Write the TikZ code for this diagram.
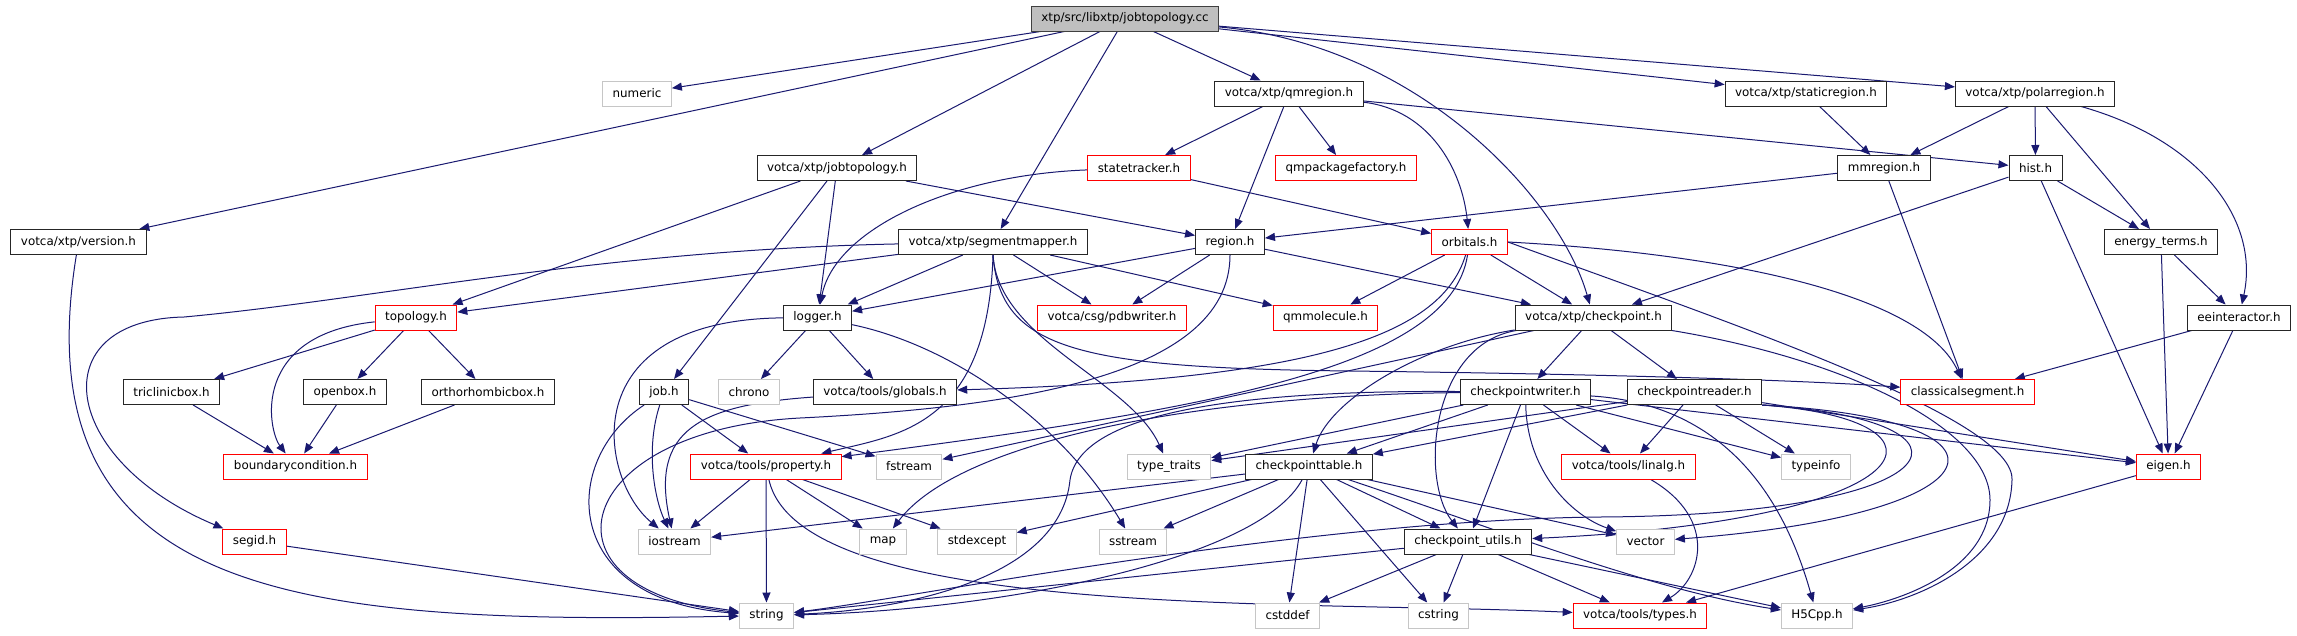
\documentclass[tikz,border=0pt]{standalone}
\usepackage{fontspec}
\setmainfont{DejaVu Sans}
\usetikzlibrary{arrows.meta,backgrounds}
\definecolor{edgeblue}{HTML}{191970}

\begin{document}
\begin{tikzpicture}[x=1pt, y=-1pt,
    hfile/.style={draw=black!85, line width=1pt, fill=white, minimum height=25pt, inner xsep=10pt, inner ysep=0pt, font=\fontsize{11.9}{14}\selectfont},
    redfile/.style={hfile, draw=red},
    sysfile/.style={hfile, draw=gray!45},
    rootfile/.style={hfile, fill=gray!50, draw=black!75},
    dep/.style={edgeblue, line width=1pt, -{Stealth[length=10pt, width=8pt, inset=0pt]}},
]
\useasboundingbox (0,0) rectangle (2297,635);
\begin{scope}[on background layer]
\fill[white] (0,0) rectangle (2297,635);
\end{scope}

% Top: the source file
\node[rootfile] (cc) at (1125,18.5) {xtp/src/libxtp/jobtopology.cc};

% Row 1
\node[sysfile] (numeric) at (637,93.5) {numeric};
\node[hfile] (qmregion) at (1289,93.5) {votca/xtp/qmregion.h};
\node[hfile] (staticregion) at (1806,93.5) {votca/xtp/staticregion.h};
\node[hfile] (polarregion) at (2035,93.5) {votca/xtp/polarregion.h};

% Row 2
\node[hfile] (jobtopology) at (837,168) {votca/xtp/jobtopology.h};
\node[redfile] (statetracker) at (1139,168) {statetracker.h};
\node[redfile] (qmpackagefactory) at (1346,168) {qmpackagefactory.h};
\node[hfile] (mmregion) at (1884,168) {mmregion.h};
\node[hfile] (hist) at (2035.5,168) {hist.h};

% Row 3
\node[hfile] (version) at (78.5,242) {votca/xtp/version.h};
\node[hfile] (segmentmapper) at (993,242) {votca/xtp/segmentmapper.h};
\node[hfile] (region) at (1230,242) {region.h};
\node[redfile] (orbitals) at (1469.5,242) {orbitals.h};
\node[hfile] (energyterms) at (2161,242) {energy\_terms.h};

% Row 4
\node[redfile] (topology) at (416,317.5) {topology.h};
\node[hfile] (logger) at (817.5,317.5) {logger.h};
\node[redfile] (pdbwriter) at (1112,317.5) {votca/csg/pdbwriter.h};
\node[redfile] (qmmolecule) at (1325.5,317.5) {qmmolecule.h};
\node[hfile] (checkpoint) at (1593.5,317.5) {votca/xtp/checkpoint.h};
\node[hfile] (eeinteractor) at (2239,317.5) {eeinteractor.h};

% Row 5
\node[hfile] (triclinicbox) at (171.5,392) {triclinicbox.h};
\node[hfile] (openbox) at (345,392) {openbox.h};
\node[hfile] (orthorhombicbox) at (488,392) {orthorhombicbox.h};
\node[hfile] (job) at (664,392) {job.h};
\node[sysfile] (chrono) at (749,392) {chrono};
\node[hfile] (globals) at (885,392) {votca/tools/globals.h};
\node[hfile] (cpwriter) at (1525.5,392) {checkpointwriter.h};
\node[hfile] (cpreader) at (1694.5,392) {checkpointreader.h};
\node[redfile] (classicalsegment) at (1967.5,392) {classicalsegment.h};

% Row 6
\node[redfile] (boundarycondition) at (295.5,466.5) {boundarycondition.h};
\node[redfile] (property) at (766,466.5) {votca/tools/property.h};
\node[sysfile] (fstream) at (909,466.5) {fstream};
\node[sysfile] (typetraits) at (1169,466.5) {type\_traits};
\node[hfile] (cptable) at (1309,466.5) {checkpointtable.h};
\node[redfile] (linalg) at (1628.5,466.5) {votca/tools/linalg.h};
\node[sysfile] (typeinfo) at (1816,466.5) {typeinfo};
\node[redfile] (eigen) at (2168.5,466.5) {eigen.h};

% Row 7
\node[redfile] (segid) at (254.5,541.5) {segid.h};
\node[sysfile] (iostream) at (674.5,541.5) {iostream};
\node[sysfile] (map) at (883,541.5) {map};
\node[sysfile] (stdexcept) at (977,541.5) {stdexcept};
\node[sysfile] (sstream) at (1133,541.5) {sstream};
\node[hfile] (cputils) at (1468,541.5) {checkpoint\_utils.h};
\node[sysfile] (vector) at (1645.5,541.5) {vector};

% Bottom row
\node[sysfile] (string) at (766.5,615.5) {string};
\node[sysfile] (cstddef) at (1287.5,615.5) {cstddef};
\node[sysfile] (cstring) at (1438.5,615.5) {cstring};
\node[redfile] (types) at (1640,615.5) {votca/tools/types.h};
\node[sysfile] (hfivecpp) at (1817,615.5) {H5Cpp.h};

\begin{scope}[on background layer]
% straight includes
\foreach \a/\b in {cc/numeric, cc/version, cc/jobtopology, cc/segmentmapper, cc/qmregion, cc/staticregion, cc/polarregion,
    jobtopology/topology, jobtopology/job, jobtopology/logger, jobtopology/region,
    qmregion/statetracker, qmregion/region, qmregion/qmpackagefactory, qmregion/hist,
    staticregion/mmregion, polarregion/mmregion, polarregion/hist, polarregion/energyterms,
    statetracker/orbitals, mmregion/region, mmregion/classicalsegment,
    hist/checkpoint, hist/energyterms, hist/eigen, energyterms/eeinteractor, energyterms/eigen,
    eeinteractor/classicalsegment, eeinteractor/eigen,
    segmentmapper/topology, segmentmapper/logger, segmentmapper/pdbwriter, segmentmapper/qmmolecule,
    region/logger, region/pdbwriter, region/checkpoint, orbitals/qmmolecule, orbitals/checkpoint,
    topology/triclinicbox, topology/openbox, topology/orthorhombicbox,
    triclinicbox/boundarycondition, openbox/boundarycondition, orthorhombicbox/boundarycondition,
    logger/chrono, logger/globals, job/property, job/fstream,
    checkpoint/cpwriter, checkpoint/cpreader, checkpoint/fstream,
    cpwriter/cptable, cpwriter/cputils, cpwriter/typetraits, cpwriter/linalg, cpwriter/typeinfo, cpwriter/eigen,
    cpreader/cptable, cpreader/typetraits, cpreader/linalg, cpreader/typeinfo, cpreader/eigen,
    cptable/iostream, cptable/stdexcept, cptable/sstream, cptable/cstddef, cptable/cstring, cptable/cputils, cptable/vector,
    cputils/string, cputils/cstddef, cputils/cstring, cputils/types, cputils/hfivecpp,
    property/iostream, property/map, property/stdexcept, property/string,
    eigen/types, segid/string}
  \draw[dep] (\a) -- (\b);

% curved includes
\draw[dep] (cc) .. controls (1420,45) and (1560,200) .. (checkpoint);
\draw[dep] (polarregion) .. controls (2200,140) and (2260,220) .. (eeinteractor);
\draw[dep] (qmregion) .. controls (1430,110) and (1462,170) .. (orbitals);
\draw[dep] (statetracker) .. controls (950,175) and (835,230) .. (logger);
\draw[dep] (version) .. controls (20,600) and (300,625) .. (string);
\draw[dep] (segmentmapper) .. controls (600,250) and (370,300) .. (184,317) .. controls (40,320) and (60,460) .. (segid);
\draw[dep] (segmentmapper.south) .. controls (988,425) and (900,435) .. (property);
\draw[dep] (segmentmapper.south) .. controls (998,340) and (1130,380) .. (typetraits);
\draw[dep] (segmentmapper.south) .. controls (1000,350) and (1080,368) .. (1350,371) .. controls (1600,374) and (1800,380) .. (classicalsegment);
\draw[dep] (region) .. controls (1230,380) and (1000,408) .. (800,418) .. controls (570,430) and (530,590) .. (string);
\draw[dep] (orbitals.east) .. controls (1750,255) and (1925,300) .. (classicalsegment);
\draw[dep] (orbitals) .. controls (1440,340) and (1300,380) .. (globals);
\draw[dep] (orbitals) .. controls (1450,370) and (1200,410) .. (property);
\draw[dep] (orbitals.east) .. controls (1750,330) and (2015,420) .. (2012,480) .. controls (2010,560) and (1920,600) .. (hfivecpp);
\draw[dep] (checkpoint) .. controls (1850,360) and (1990,430) .. (1990,500) .. controls (1990,570) and (1900,600) .. (hfivecpp);
\draw[dep] (checkpoint) .. controls (1420,345) and (1330,400) .. (cptable);
\draw[dep] (checkpoint) .. controls (1430,345) and (1420,480) .. (cputils);
\draw[dep] (cpwriter) .. controls (1740,405) and (1790,520) .. (hfivecpp);
\draw[dep] (cpwriter) .. controls (1527,470) and (1570,515) .. (vector);
\draw[dep] (cpwriter) .. controls (1200,395) and (960,440) .. (map);
\draw[dep] (cpwriter) .. controls (1250,390) and (1080,410) .. (1070,480) .. controls (1060,580) and (900,610) .. (string);
\draw[dep] (cpreader.south east) .. controls (1970,420) and (1930,520) .. (cputils);
\draw[dep] (cpreader.south east) .. controls (2040,420) and (2000,515) .. (vector);
\draw[dep] (cpreader.south east) .. controls (2000,420) and (1960,515) .. (1600,517) .. controls (1300,520) and (900,600) .. (string);
\draw[dep] (cptable) .. controls (1260,560) and (1000,610) .. (string);
\draw[dep] (cptable) .. controls (1500,530) and (1650,590) .. (hfivecpp);
\draw[dep] (linalg) .. controls (1720,520) and (1700,580) .. (types);
\draw[dep] (property) .. controls (800,620) and (1300,600) .. (types);
\draw[dep] (logger) .. controls (950,345) and (1060,420) .. (sstream);
\draw[dep] (logger) .. controls (570,320) and (600,480) .. (iostream);
\draw[dep] (globals) .. controls (700,405) and (650,430) .. (iostream);
\draw[dep] (job) .. controls (645,450) and (655,500) .. (iostream);
\draw[dep] (job) .. controls (560,460) and (560,600) .. (string);
\draw[dep] (topology) .. controls (250,335) and (268,430) .. (boundarycondition);
\end{scope}
\end{tikzpicture}
\end{document}
